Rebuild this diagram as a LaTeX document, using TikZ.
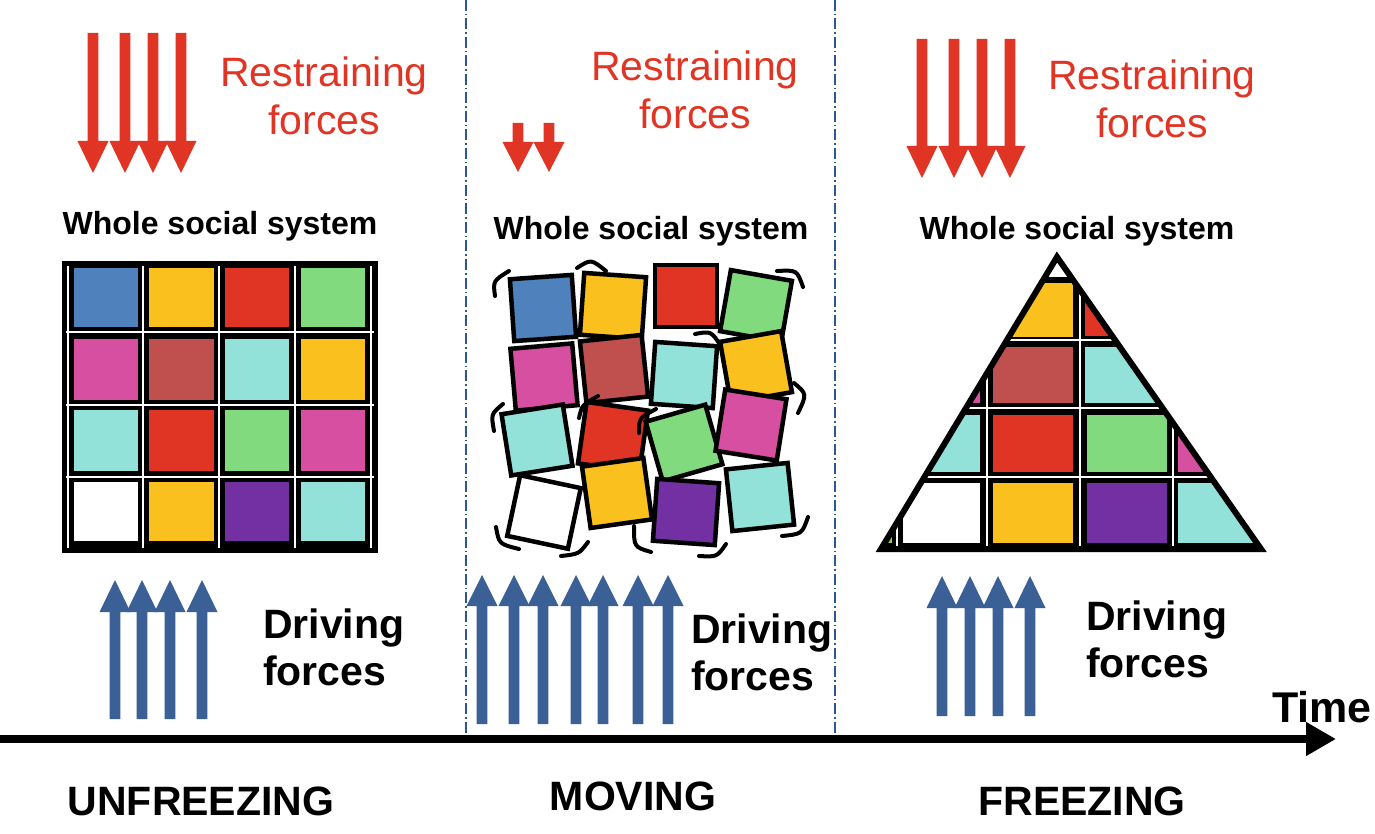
\documentclass[tikz,border=0pt]{standalone}
\usepackage{fontspec}
\setmainfont{Liberation Sans}
\usetikzlibrary{arrows.meta}
\definecolor{cblue}{HTML}{4F81BD}
\definecolor{cyellow}{HTML}{F9C01E}
\definecolor{cred}{HTML}{E03424}
\definecolor{cgreen}{HTML}{82DA7E}
\definecolor{cmag}{HTML}{D64FA0}
\definecolor{cbrown}{HTML}{C0504D}
\definecolor{ccyan}{HTML}{93E2DA}
\definecolor{cpurple}{HTML}{7330A3}
\definecolor{clime}{HTML}{92D050}
\definecolor{arrred}{HTML}{E03424}
\definecolor{arrblue}{HTML}{3A6096}
\definecolor{sepblue}{HTML}{2F5597}
\newcommand\ArrowShape[5]{%
  \fill[#5] (#1-5.3,#2) -- (#1+5.3,#2) -- (#1+5.3,#3) -- (#1+15.5,#3) -- (#1,#4) -- (#1-15.5,#3) -- (#1-5.3,#3) -- cycle;}
\begin{document}
\begin{tikzpicture}[x=1pt,y=-1pt,
  redlabel/.style={text=cred, font=\fontsize{41}{48}\selectfont, inner sep=0pt, align=center},
  drivelabel/.style={text=black, font=\bfseries\fontsize{41}{47}\selectfont, inner sep=0pt, align=left},
  wholelabel/.style={text=black, font=\bfseries\fontsize{32}{38}\selectfont, inner sep=0pt},
  phaselabel/.style={text=black, font=\bfseries\fontsize{41}{48}\selectfont, inner sep=0pt},
  sepline/.style={draw=sepblue, line width=1.2pt, dash pattern=on 11pt off 3pt on 1.5pt off 3pt},
  gridline/.style={draw=white, line width=2pt},
  msq/.style={draw=black, line width=4.5pt},
  jitter/.style={draw=black, line width=4pt, line cap=round}]
\useasboundingbox (0,0) rectangle (1375,834);
\fill[white] (0,0) rectangle (1375,834);

% separators
\coordinate (s1t) at (466,0); \coordinate (s1b) at (466,736);
\coordinate (s2t) at (835,0); \coordinate (s2b) at (835,736);
\draw[sepline] (s1t) -- (s1b);
\draw[sepline] (s2t) -- (s2b);

% red arrows
\foreach \x in {93,125,153,181} {\ArrowShape{\x}{33}{141}{173}{arrred}}
\foreach \x in {518,549} {\ArrowShape{\x}{123}{142}{172}{arrred}}
\foreach \x in {922,954,982,1010} {\ArrowShape{\x}{39}{146}{178}{arrred}}
% blue arrows
\foreach \x in {115,142,170,202} {\ArrowShape{\x}{719}{612}{580}{arrblue}}
\foreach \x in {482,514,543,576,603,638,668} {\ArrowShape{\x}{724}{606}{575}{arrblue}}
\foreach \x in {942,970,998,1030} {\ArrowShape{\x}{716}{608}{576}{arrblue}}

% texts
\node[redlabel, anchor=north] (r1) at (324,57) {Restraining\\forces};
\node[redlabel, anchor=north] (r2) at (695,51) {Restraining\\forces};
\node[redlabel, anchor=north] (r3) at (1152,60) {Restraining\\forces};
\node[wholelabel, anchor=base] (w1) at (220,235) {Whole social system};
\node[wholelabel, anchor=base] (w2) at (651,240) {Whole social system};
\node[wholelabel, anchor=base] (w3) at (1077,240) {Whole social system};
\node[drivelabel, anchor=north west] (d1) at (263,609) {Driving\\forces};
\node[drivelabel, anchor=north west] (d2) at (691,614) {Driving\\forces};
\node[drivelabel, anchor=north west] (d3) at (1086,601) {Driving\\forces};
\node[phaselabel, anchor=base] (p1) at (201,815) {UNFREEZING};
\node[phaselabel, anchor=base] (p2) at (633,810) {MOVING};
\node[phaselabel, anchor=base] (p3) at (1082,815) {FREEZING};
\node[phaselabel, font=\bfseries\fontsize{43}{50}\selectfont, anchor=base west] (time) at (1272,722) {Time};

% time axis
\coordinate (axL) at (0,739);
\coordinate (axR) at (1336,739);
\draw[line width=8pt, -{Triangle[length=30pt,width=32pt]}] (axL) -- (axR);

% left grid
\fill[black] (62,261) rectangle (378,553);
\foreach \x in {68,143,219,295,371} {\draw[gridline] (\x,266) -- (\x,548);}
\foreach \y in {332,405,477} {\draw[gridline] (66,\y) -- (374,\y);}
\fill[cblue]   (74,268) rectangle (138,327);
\fill[cyellow] (149,268) rectangle (214,327);
\fill[cred]    (225,268) rectangle (289,327);
\fill[cgreen]  (301,268) rectangle (365,327);
\fill[cmag]    (74,339) rectangle (138,400);
\fill[cbrown]  (149,339) rectangle (214,400);
\fill[ccyan]   (225,339) rectangle (289,400);
\fill[cyellow] (301,339) rectangle (365,400);
\fill[ccyan]   (74,410) rectangle (138,471);
\fill[cred]    (149,410) rectangle (214,471);
\fill[cgreen]  (225,410) rectangle (289,471);
\fill[cmag]    (301,410) rectangle (365,471);
\fill[white]   (74,482) rectangle (138,541);
\fill[cyellow] (149,482) rectangle (214,541);
\fill[cpurple] (225,482) rectangle (289,541);
\fill[ccyan]   (301,482) rectangle (365,541);

% moving squares
\foreach \cx/\cy/\a/\c in {543/308/4/cblue, 613/306/-4/cyellow, 686/296/0/cred, 756/306/-10/cgreen,
  544/377/5/cmag, 614/369/6/cbrown, 684/375/-4/ccyan, 756/367/10/cyellow,
  537/440/9/ccyan, 613/437/-8/cred, 684/443/16/cgreen, 751/425/-9/cmag,
  544/512/-12/white, 617/493/8/cyellow, 686/512/-4/cpurple, 760/497/6/ccyan}
  {\draw[msq, fill=\c, rotate around={\a:(\cx,\cy)}] (\cx-31,\cy-31) rectangle (\cx+31,\cy+31);}
% jitter marks
\draw[jitter] (495,296) .. controls (493,281) .. (509,271);
\draw[jitter] (577,268) .. controls (591,259) .. (606,271);
\draw[jitter] (777,271) .. controls (797,270) .. (803,287);
\draw[jitter] (695,334) .. controls (711,331) .. (721,346);
\draw[jitter] (494,431) .. controls (491,414) .. (503,404);
\draw[jitter] (579,418) .. controls (582,405) .. (598,396);
\draw[jitter] (639,433) .. controls (639,418) .. (656,409);
\draw[jitter] (794,383) .. controls (807,394) .. (798,413);
\draw[jitter] (496,527) .. controls (499,544) .. (519,549);
\draw[jitter] (561,556) .. controls (579,554) .. (588,542);
\draw[jitter] (634,526) .. controls (634,547) .. (651,552);
\draw[jitter] (699,556) .. controls (717,557) .. (726,544);
\draw[jitter] (782,536) .. controls (802,534) .. (808,517);

% triangle
\coordinate (tA) at (1057,257);
\coordinate (tL) at (881,549);
\coordinate (tR) at (1261,549);
\fill[black] (tA) -- (tL) -- (tR) -- cycle;
\begin{scope}
\clip (tA) -- (tL) -- (tR) -- cycle;
\fill[white] (1000,240) rectangle (1120,277);
\foreach \x in {897,987,1080,1173} {\draw[gridline] (\x,250) -- (\x,560);}
\foreach \y in {340,408,477} {\draw[gridline] (870,\y) -- (1270,\y);}
\fill[cyellow] (870,283) rectangle (1073,337);
\fill[cred]    (1085,283) rectangle (1270,336);
\fill[cmag]    (870,347) rectangle (980,403);
\fill[cbrown]  (993,347) rectangle (1073,403);
\fill[ccyan]   (1085,347) rectangle (1270,403);
\fill[ccyan]   (870,415) rectangle (980,472);
\fill[cred]    (993,415) rectangle (1073,472);
\fill[cgreen]  (1087,415) rectangle (1167,472);
\fill[cmag]    (1178,415) rectangle (1270,472);
\fill[clime]   (870,483) rectangle (892,543);
\fill[white]   (903,483) rectangle (980,543);
\fill[cyellow] (993,483) rectangle (1073,543);
\fill[cpurple] (1087,483) rectangle (1167,543);
\fill[ccyan]   (1178,483) rectangle (1270,543);
\end{scope}
\draw[line width=6pt, line join=miter] (tA) -- (tL) -- (tR) -- cycle;
\end{tikzpicture}
\end{document}
